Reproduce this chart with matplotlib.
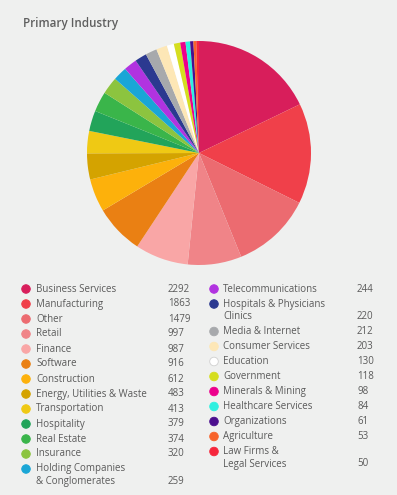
import matplotlib.pyplot as plt
from matplotlib.patches import Circle

plt.rcParams['font.family'] = ['Open Sans', 'DejaVu Sans']

labels = ['Business Services', 'Manufacturing', 'Other', 'Retail', 'Finance', 'Software',
          'Construction', 'Energy, Utilities & Waste', 'Transportation', 'Hospitality',
          'Real Estate', 'Insurance', 'Holding Companies\n& Conglomerates',
          'Telecommunications', 'Hospitals & Physicians\nClinics', 'Media & Internet',
          'Consumer Services', 'Education', 'Government', 'Minerals & Mining',
          'Healthcare Services', 'Organizations', 'Agriculture', 'Law Firms &\nLegal Services']
values = [2292, 1863, 1479, 997, 987, 916, 612, 483, 413, 379, 374, 320, 259,
          244, 220, 212, 203, 130, 118, 98, 84, 61, 53, 50]
colors = ['#d81e5b', '#f0404a', '#ec6b70', '#f08488', '#f9a6a6', '#ea8013',
          '#fdb10b', '#d4a300', '#efc914', '#22a45a', '#3ab54a', '#8cc43f', '#1aa6d6',
          '#b133e0', '#2b3990', '#a7a9ac', '#fde7b6', '#ffffff', '#d5de1f', '#ec008c',
          '#2ef0e0', '#4b0f8e', '#f7632b', '#f6263c']

bg = '#eff0ef'
txt = '#5a5a5a'
W, H = 397, 495

fig = plt.figure(figsize=(W / 100, H / 100), dpi=100, facecolor=bg)

fig.text(23 / W, 1 - 23 / H, 'Primary Industry', fontsize=8.4, fontweight='semibold',
         color='#5f5f5f', va='center', ha='left')

# pie
cx, cy, r = 199, 153, 112
ax = fig.add_axes([(cx - r) / W, 1 - (cy + r) / H, 2 * r / W, 2 * r / H])
ax.pie(values, colors=colors, startangle=90, counterclock=False,
       wedgeprops=dict(linewidth=0))
ax.set_xlim(-1, 1)
ax.set_ylim(-1, 1)
ax.set_aspect('equal')
ax.axis('off')

# legend
lax = fig.add_axes([0, 0, 1, 1])
lax.set_xlim(0, W)
lax.set_ylim(H, 0)
lax.axis('off')
lax.patch.set_alpha(0)

def draw_col(items, x_dot, x_txt, x_val, y0):
    y = y0
    for lab, val, col in items:
        lines = lab.split('\n')
        lax.add_patch(Circle((x_dot, y), 4.3, facecolor=col,
                             edgecolor='#d0d0d0' if col == '#ffffff' else col, lw=0.6))
        for i, line in enumerate(lines):
            lax.text(x_txt, y + 12.5 * i, line, fontsize=7.0, color=txt, va='center',
                     ha='left')
        y_last = y + 12.5 * (len(lines) - 1)
        lax.text(x_val, y_last, str(val), fontsize=7.0, color=txt, va='center', ha='left')
        y = y_last + 15

items = list(zip(labels, values, colors))
draw_col(items[:13], 26, 36, 168, 289)
draw_col(items[13:], 214, 223, 357, 289)

fig.savefig('out.png', dpi=100, facecolor=bg)
